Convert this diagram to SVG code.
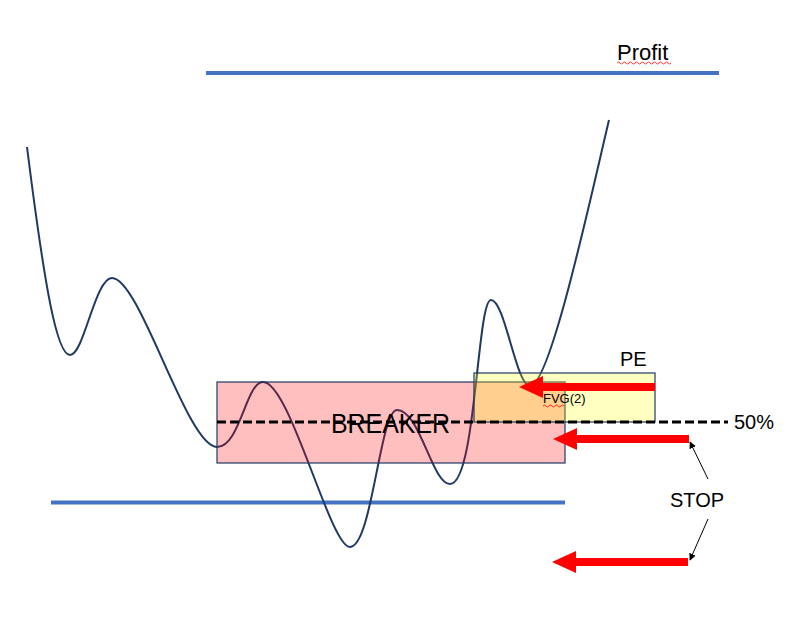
<svg xmlns="http://www.w3.org/2000/svg" width="800" height="635" viewBox="0 0 800 635">
<style>
.lvl{stroke:#4472C4;stroke-width:4;fill:none}
.price{stroke:#1F3864;stroke-width:2;fill:none}
.zone{stroke:#1F3864;stroke-width:1.2}
.txt{font-family:"Liberation Sans",Arial,sans-serif;fill:#000}
.squig{stroke:#FF0000;stroke-width:0.8;fill:none}
.thin{stroke:#000;stroke-width:1;fill:none;marker-end:url(#ah)}
</style>
<defs>
<path id="redArrow" d="M0,0 L24,-11 L24,-4 L136,-4 L136,4 L24,4 L24,11 Z" fill="#FF0000"/>
<marker id="ah" viewBox="0 0 10 10" refX="9" refY="5" markerWidth="7" markerHeight="7" orient="auto" markerUnits="userSpaceOnUse">
<path d="M0,0 L10,5 L0,10 Z" fill="#000"/>
</marker>
</defs>
<rect width="800" height="635" fill="#fff"/>
<g id="levels">
<line class="lvl" x1="206" y1="73" x2="719" y2="73"/>
<line class="lvl" x1="51" y1="502.5" x2="565" y2="502.5"/>
</g>
<g id="price-curve">
<path class="price" d="M27,147 C45,290 57,355 70,355 C84,355 95,278 112,278 C140,278 187,447 217,447 C240,447 246,382 263,382 C290,382 330,547 350,547 C372,547 380,410 397,410 C420,410 432,484 450,484 C476,484 477,300 491,300 C505,300 516,386 530,386 C550,386 590,200 609,120"/>
</g>
<g id="breaker">
<rect class="zone" x="217" y="382" width="348" height="81" fill="#FF0000" fill-opacity="0.25"/>
</g>
<g id="fvg">
<rect class="zone" x="474" y="373" width="181" height="49" fill="#FFFF00" fill-opacity="0.25"/>
</g>
<g id="fifty">
<line x1="217" y1="422" x2="728" y2="422" stroke="#000" stroke-width="3" stroke-dasharray="9,4"/>
</g>
<g id="labels">
<text class="txt" x="617" y="60" font-size="22">Profit</text>
<path class="squig" d="M617,63 q1.5,-2 3,0 t3,0 t3,0 t3,0 t3,0 t3,0 t3,0 t3,0 t3,0 t3,0 t3,0 t3,0 t3,0 t3,0 t3,0 t3,0 t3,0 t3,0"/>
<text class="txt" x="331" y="433" font-size="28" textLength="119" lengthAdjust="spacingAndGlyphs">BREAKER</text>
<text class="txt" x="620" y="366" font-size="20">PE</text>
<text class="txt" x="543" y="403" font-size="13">FVG(2)</text>
<path class="squig" d="M543,406 q1.5,-2 3,0 t3,0 t3,0 t3,0 t3,0 t3,0 t3,0"/>
<text class="txt" x="734" y="429" font-size="20">50%</text>
<text class="txt" x="697" y="507" font-size="20" text-anchor="middle">STOP</text>
</g>
<g id="connectors">
<use href="#redArrow" x="519" y="387"/>
<use href="#redArrow" x="553" y="439"/>
<use href="#redArrow" x="552" y="562"/>
<line class="thin" x1="708" y1="479" x2="690" y2="442"/>
<line class="thin" x1="708" y1="519" x2="690" y2="560"/>
</g>
</svg>
